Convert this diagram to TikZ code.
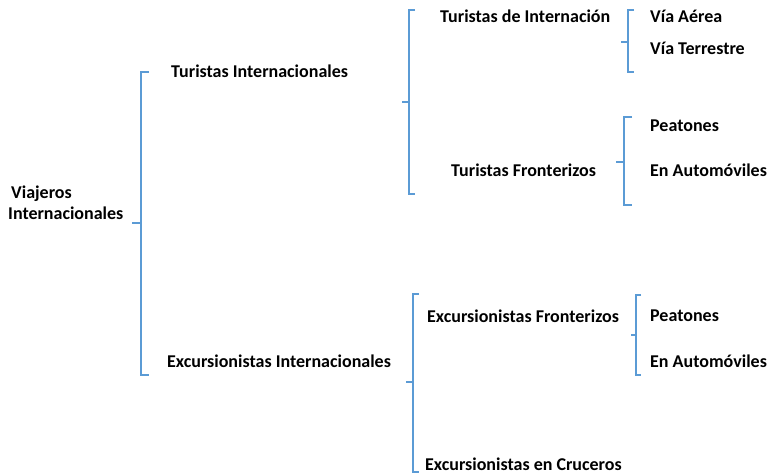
\documentclass[tikz,border=0pt]{standalone}
\usepackage{fontspec}
\setmainfont{Carlito}
\definecolor{brk}{HTML}{5B9BD5}
\tikzset{
  lbl/.style={anchor=west, inner sep=0pt, font=\fontsize{18}{21}\selectfont\bfseries},
  brace/.style={draw=brk, line width=2.2pt}
}
\newcommand{\brak}[6]{% x, top, bottom, mid, tip x, end x
  \draw[brace] (#6,#2) -- (#1,#2) -- (#1,#3) -- (#6,#3);
  \draw[brace] (#5,#4) -- (#1,#4);
}
\begin{document}
\begin{tikzpicture}[x=1pt,y=-1pt]
\useasboundingbox (0,0) rectangle (768,474);
\node[lbl, align=left] (vi) at (8,203) {\hspace{3pt}Viajeros\\Internacionales};
\node[lbl] (ti) at (171,71) {Turistas Internacionales};
\node[lbl] (ei) at (167,361) {Excursionistas Internacionales};
\node[lbl] (tdi) at (440,16) {Turistas de Internación};
\node[lbl] (tf) at (451,170) {Turistas Fronterizos};
\node[lbl] (ef) at (427,316) {Excursionistas Fronterizos};
\node[lbl] (ec) at (425,464) {Excursionistas en Cruceros};
\node[lbl] (va) at (650,16) {Vía Aérea};
\node[lbl] (vt) at (650,48) {Vía Terrestre};
\node[lbl] (p1) at (650,126) {Peatones};
\node[lbl] (a1) at (650,170) {En Automóviles};
\node[lbl] (p2) at (650,316) {Peatones};
\node[lbl] (a2) at (650,361) {En Automóviles};
\brak{141}{72}{375}{223}{132}{149}
\brak{409}{10}{194}{102}{402}{415}
\brak{628}{10}{72}{42}{621}{634}
\brak{624}{117}{205}{162}{616}{632}
\brak{413}{294}{472}{382}{406}{419}
\brak{636}{295}{375}{335}{631}{641}
\end{tikzpicture}
\end{document}
